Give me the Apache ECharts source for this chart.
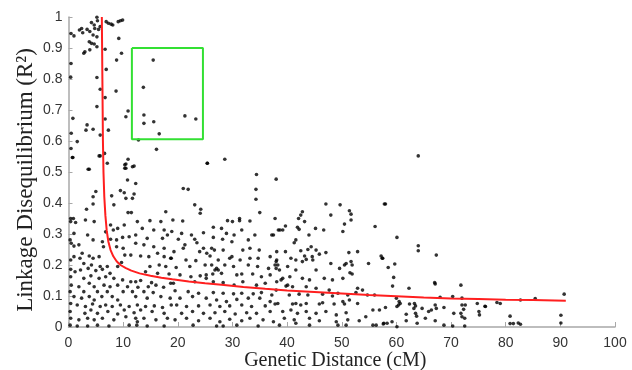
<!DOCTYPE html>
<html>
<head>
<meta charset="utf-8">
<script src="https://cdn.jsdelivr.net/npm/echarts@6/dist/echarts.min.js"></script>
<style>
html,body{margin:0;padding:0;background:#fff;}
#chart{width:632px;height:370px;}
</style>
</head>
<body>
<div id="chart"></div>
<script>
// ---- Data ----
var xTicks = [0,10,20,30,40,50,60,70,80,90,100];
var yTicks = [0,0.1,0.2,0.3,0.4,0.5,0.6,0.7,0.8,0.9,1];

// Upper scatter (R2 > ~0.5)
var pointsUpper = [
[0.46,0.947],[1.0,0.939],[2.0,0.958],[2.4,0.963],[2.6,0.949],[3.4,0.96],[3.9,0.953],[4.2,0.982],[4.7,0.974],[5.2,0.999],
[5.3,0.988],[4.8,0.963],[5.5,0.96],[5.8,0.969],[4.5,0.942],[5.2,0.936],[3.8,0.92],[4.2,0.915],[4.7,0.913],[5.2,0.904],
[3.0,0.888],[2.8,0.883],[3.9,0.894],[6.7,0.896],[6.9,0.985],[7.3,0.98],[7.8,0.977],[8.1,0.974],[9.1,0.985],[9.5,0.988],
[9.9,0.99],[9.2,0.931],[9.7,0.883],[8.8,0.861],[6.9,0.831],[5.2,0.805],[5.8,0.767],[6.7,0.74],[8.7,0.761],[0.46,0.85],
[5.2,0.711],[6.7,0.671],[0.8,0.673],[0.5,0.625],[0.46,0.576],[0.8,0.547],[1.6,0.598],[3.2,0.635],[3.4,0.652],[4.5,0.638],
[5.8,0.619],[7.3,0.635],[5.6,0.552],[6.6,0.56],[7.1,0.528],[3.6,0.509],[10.5,0.678],[10.9,0.697],[12.8,0.603],[15.5,0.861],
[13.7,0.773],[13.8,0.684],[13.8,0.657],[15.6,0.662],[16.6,0.623],[21.3,0.681],[23.3,0.671],[16.1,0.573],[10.9,0.541],[10.5,0.526],
[10.3,0.512],[11.7,0.517],[25.4,0.528],[28.6,0.541],[34.4,0.492],[38.0,0.477],[64.0,0.552],[0.4,0.806]
];

// Band 0-19 cM
var pointsBandA = [
[0.7,0.547],[5.8,0.552],[3.8,0.509],[10.3,0.523],[10.5,0.512],[12.0,0.519],[10.8,0.474],[12.3,0.463],[5.0,0.437],[4.5,0.42],
[9.5,0.44],[10.2,0.433],[12.0,0.429],[10.5,0.415],[11.7,0.415],[7.9,0.423],[4.5,0.397],[8.3,0.394],[3.3,0.38],[10.9,0.369],
[11.5,0.369],[17.8,0.372],[0.4,0.35],[0.9,0.35],[0.4,0.34],[1.3,0.337],[3.1,0.345],[4.7,0.34],[7.7,0.329],[8.2,0.313],
[9.0,0.318],[6.8,0.307],[10.2,0.329],[12.6,0.34],[14.9,0.343],[16.9,0.34],[13.5,0.318],[15.6,0.313],[17.5,0.313],[18.1,0.297],
[17.2,0.286],[3.5,0.297],[1.0,0.302],[0.3,0.281],[0.5,0.27],[1.0,0.261],[1.9,0.265],[4.5,0.281],[6.2,0.275],[7.7,0.283],
[8.8,0.281],[9.9,0.289],[11.1,0.291],[12.3,0.297],[14.4,0.286],[12.3,0.27],[13.8,0.265],[6.4,0.259],[8.8,0.259],[10.0,0.254],
[15.6,0.259],[17.5,0.254],[2.5,0.238],[3.8,0.229],[1.0,0.227],[0.4,0.216],[2.1,0.222],[4.5,0.222],[5.6,0.227],[10.3,0.232],
[11.4,0.232],[13.2,0.229],[14.7,0.227],[16.3,0.238],[17.5,0.227],[18.7,0.222],[2.8,0.205],[4.2,0.2],[3.6,0.189],[5.8,0.195],
[7.1,0.195],[9.0,0.195],[9.7,0.208],[0.4,0.186],[1.2,0.178],[2.2,0.184],[5.0,0.182],[6.2,0.186],[7.6,0.173],[14.9,0.195],
[16.6,0.2],[17.8,0.195],[14.1,0.178],[16.3,0.173],[18.4,0.171],[0.4,0.162],[2.8,0.157],[4.1,0.165],[5.6,0.157],[6.8,0.162],
[8.3,0.157],[9.9,0.152],[11.4,0.146],[12.3,0.146],[13.2,0.15],[15.2,0.143],[0.5,0.135],[1.9,0.13],[3.8,0.141],[4.7,0.13],
[6.5,0.135],[7.6,0.13],[9.0,0.135],[10.8,0.13],[12.7,0.128],[14.6,0.13],[16.0,0.135],[17.4,0.128],[18.7,0.141],[0.3,0.114],
[2.8,0.114],[5.3,0.114],[7.1,0.114],[10.0,0.114],[11.7,0.114],[13.8,0.114],[15.5,0.111],[1.0,0.098],[2.4,0.093],[3.8,0.098],
[4.7,0.087],[6.1,0.098],[8.0,0.098],[9.0,0.087],[12.3,0.098],[14.4,0.093],[16.9,0.098],[18.6,0.093],[0.4,0.076],[1.6,0.071],
[3.1,0.066],[4.4,0.074],[5.8,0.066],[6.8,0.071],[8.0,0.066],[9.5,0.071],[11.1,0.066],[12.6,0.071],[14.1,0.066],[15.7,0.068],
[17.2,0.063],[18.8,0.071],[0.3,0.05],[3.0,0.044],[4.1,0.055],[5.3,0.044],[7.2,0.05],[9.0,0.042],[10.2,0.055],[12.0,0.046],
[13.2,0.055],[15.3,0.05],[17.5,0.044],[0.4,0.028],[1.9,0.023],[3.5,0.028],[4.7,0.023],[6.2,0.028],[8.3,0.023],[10.5,0.033],
[12.3,0.028],[12.6,0.017],[13.8,0.028],[16.0,0.023],[18.1,0.028],[0.3,0.006],[1.6,0.003],[3.5,0.003],[5.3,0.006],[7.4,0.003],
[11.1,0.006],[12.5,0.006],[14.4,0.003],[17.5,0.003]
];

// Band 19-38 cM
var pointsBandB = [
[25.4,0.528],[34.3,0.444],[34.3,0.412],[21.0,0.447],[21.9,0.444],[23.1,0.394],[24.2,0.38],[24.1,0.367],[35.0,0.369],[19.1,0.345],
[20.9,0.342],[29.1,0.343],[30.0,0.34],[31.3,0.35],[31.3,0.343],[33.2,0.342],[37.8,0.35],[26.5,0.322],[28.0,0.318],[24.7,0.304],
[22.5,0.297],[20.7,0.302],[18.9,0.308],[28.9,0.302],[30.3,0.297],[31.7,0.313],[34.1,0.297],[37.2,0.297],[37.5,0.297],[38.4,0.313],
[20.1,0.283],[23.1,0.283],[23.5,0.272],[26.5,0.289],[28.2,0.283],[29.9,0.275],[32.9,0.281],[21.3,0.265],[21.0,0.254],[24.7,0.254],
[26.2,0.254],[26.7,0.248],[28.3,0.248],[31.9,0.248],[33.2,0.254],[34.9,0.248],[19.3,0.243],[24.0,0.243],[25.3,0.238],[18.8,0.222],
[21.5,0.216],[23.3,0.214],[25.9,0.229],[27.4,0.216],[29.5,0.222],[29.9,0.227],[31.4,0.216],[33.2,0.222],[34.7,0.222],[36.9,0.227],
[38.1,0.216],[19.7,0.192],[22.2,0.195],[25.0,0.2],[26.2,0.2],[27.4,0.184],[26.8,0.184],[27.1,0.189],[28.6,0.2],[30.2,0.195],
[32.9,0.2],[34.6,0.195],[36.6,0.189],[37.8,0.2],[20.4,0.168],[22.4,0.162],[24.1,0.165],[25.2,0.168],[26.4,0.171],[28.0,0.173],
[30.8,0.168],[31.7,0.171],[33.7,0.171],[35.3,0.162],[36.9,0.168],[19.2,0.141],[23.1,0.146],[25.2,0.157],[26.5,0.146],[28.3,0.143],
[30.3,0.135],[31.9,0.146],[34.4,0.135],[36.0,0.141],[38.1,0.146],[19.5,0.117],[21.9,0.114],[23.8,0.109],[26.5,0.111],[28.3,0.109],
[30.2,0.107],[31.7,0.109],[33.8,0.107],[35.3,0.111],[37.2,0.103],[20.4,0.093],[22.7,0.098],[25.2,0.093],[27.1,0.087],[28.9,0.082],
[30.8,0.089],[32.9,0.093],[35.0,0.093],[36.9,0.082],[19.8,0.071],[21.6,0.066],[23.8,0.068],[25.9,0.071],[27.7,0.066],[29.5,0.068],
[31.7,0.071],[33.5,0.066],[36.0,0.068],[37.8,0.074],[20.7,0.044],[22.7,0.05],[24.7,0.044],[26.8,0.046],[28.6,0.05],[30.5,0.042],
[32.6,0.046],[34.4,0.044],[36.9,0.05],[19.5,0.023],[21.6,0.028],[23.8,0.02],[25.9,0.028],[27.7,0.017],[29.5,0.025],[31.7,0.02],
[33.2,0.028],[35.6,0.023],[37.5,0.017],[22.8,0.006],[27.1,0.003],[28.3,0.003],[30.8,0.006],[34.7,0.003]
];

// Band 38-57 cM
var pointsBandC = [
[47.1,0.397],[49.7,0.394],[57.8,0.397],[42.8,0.372],[42.5,0.361],[48.0,0.361],[51.4,0.375],[51.7,0.364],[51.7,0.345],[42.1,0.35],
[43.2,0.34],[39.7,0.326],[38.7,0.313],[39.2,0.313],[41.9,0.322],[42.2,0.315],[45.2,0.318],[46.7,0.313],[50.5,0.332],[50.2,0.308],
[56.1,0.324],[44.0,0.297],[41.6,0.281],[41.3,0.272],[38.1,0.243],[39.7,0.243],[42.5,0.246],[44.4,0.259],[43.8,0.25],[45.3,0.248],
[45.9,0.235],[47.1,0.24],[51.3,0.24],[52.9,0.243],[57.2,0.229],[57.5,0.222],[40.7,0.222],[41.6,0.216],[43.2,0.229],[43.5,0.218],
[44.6,0.227],[44.7,0.216],[42.8,0.211],[38.0,0.211],[38.3,0.2],[48.0,0.205],[50.5,0.2],[50.8,0.205],[51.7,0.211],[51.9,0.2],
[54.9,0.205],[49.6,0.189],[38.0,0.189],[38.6,0.184],[40.1,0.195],[41.6,0.184],[45.3,0.184],[51.5,0.175],[51.9,0.171],[40.5,0.162],
[39.2,0.157],[38.9,0.152],[42.8,0.157],[44.1,0.152],[46.8,0.157],[48.3,0.152],[50.2,0.157],[39.8,0.132],[40.1,0.135],[41.0,0.13],
[43.5,0.13],[45.3,0.125],[47.7,0.119],[52.9,0.125],[53.8,0.119],[38.0,0.119],[40.4,0.103],[42.2,0.106],[43.8,0.103],[46.5,0.106],
[48.3,0.1],[49.3,0.109],[51.1,0.103],[52.6,0.111],[54.7,0.103],[56.0,0.103],[38.3,0.076],[41.0,0.074],[41.6,0.076],[42.5,0.071],
[43.5,0.076],[45.9,0.074],[46.5,0.078],[48.6,0.074],[50.2,0.082],[50.5,0.074],[51.4,0.087],[52.9,0.076],[55.7,0.055],[56.9,0.055],
[39.2,0.05],[40.7,0.055],[41.9,0.044],[43.5,0.05],[45.3,0.044],[47.1,0.05],[49.0,0.039],[50.8,0.046],[54.4,0.033],[39.5,0.028],
[41.3,0.023],[44.1,0.028],[45.9,0.02],[49.0,0.017],[51.1,0.023],[53.2,0.02],[38.6,0.006],[41.6,0.012],[44.1,0.006],[49.3,0.006],
[50.8,0.006],[55.7,0.006],[56.3,0.006],[57.6,0.01]
];

// Band 57-95 cM
var pointsBandD = [
[58.0,0.397],[60.1,0.289],[64.0,0.262],[64.0,0.246],[67.3,0.232],[57.4,0.222],[59.7,0.203],[58.5,0.192],[59.5,0.16],[59.3,0.132],
[62.3,0.125],[67.0,0.143],[67.1,0.139],[71.8,0.135],[68.0,0.096],[70.3,0.098],[72.0,0.093],[78.4,0.079],[79.0,0.076],[60.0,0.093],
[60.5,0.082],[60.7,0.076],[60.4,0.071],[60.1,0.066],[58.0,0.063],[62.4,0.074],[63.3,0.076],[63.5,0.068],[63.2,0.06],[64.7,0.06],
[65.9,0.05],[66.4,0.055],[67.1,0.071],[67.3,0.06],[68.7,0.063],[72.0,0.071],[72.3,0.057],[72.6,0.071],[71.8,0.044],[72.0,0.033],
[72.5,0.028],[74.8,0.076],[75.1,0.05],[75.2,0.039],[76.3,0.066],[61.8,0.041],[63.5,0.044],[63.7,0.035],[65.3,0.028],[67.1,0.02],
[70.5,0.044],[61.8,0.02],[63.8,0.012],[59.2,0.017],[58.3,0.012],[57.7,0.012],[60.1,0.001],[68.7,0.006],[70.3,0.003],[72.5,0.003],
[80.8,0.035],[80.8,0.011],[81.4,0.011],[82.3,0.013],[82.7,0.009],[82.7,0.087],[85.4,0.092],[90.1,0.038],[90.1,0.013],[90.7,0.106],
[76.2,0.067]
];

// Fitted decay curve (red)
var curveX = [6.1,6.15,6.2,6.25,6.3,6.4,6.55,6.75,7.0,7.3,7.7,8.2,8.8,9.5,10.5,11.5,13,15,17,19,22,25,28,32,36,40,45,50,55,60,65,70,75,80,85,91];
var curveY = [1.0,0.9,0.8,0.7,0.6,0.5,0.42,0.36,0.31,0.275,0.248,0.228,0.212,0.2,0.19,0.182,0.173,0.165,0.159,0.154,0.147,0.141,0.136,0.129,0.123,0.118,0.113,0.108,0.103,0.099,0.095,0.092,0.09,0.088,0.087,0.085];

// Highlight box (green)
var boxX = [11.6, 24.6, 24.6, 11.6, 11.6];
var boxY = [0.9, 0.9, 0.606, 0.606, 0.9];

// ---- Chart ----
var allPoints = pointsUpper.concat(pointsBandA, pointsBandB, pointsBandC, pointsBandD);
var curveData = curveX.map(function (x, i) { return [x, curveY[i]]; });
var boxData = boxX.map(function (x, i) { return [x, boxY[i]]; });

var chart = echarts.init(document.getElementById('chart'), null, {renderer: 'canvas'});
var axisColor = '#a8a8a8';
chart.setOption({
  animation: false,
  backgroundColor: '#ffffff',
  grid: {left: 68.5, right: 17, top: 17, bottom: 43, containLabel: false, outerBoundsMode: 'none'},
  xAxis: {
    type: 'value', min: xTicks[0], max: xTicks[xTicks.length - 1], interval: xTicks[1] - xTicks[0],
    name: 'Genetic Distance (cM)', nameLocation: 'middle', nameGap: 24, nameMoveOverlap: false,
    nameTextStyle: {fontFamily: 'Liberation Serif', fontSize: 20, color: '#222', padding: [0, 13, 0, 0]},
    axisLine: {show: true, lineStyle: {color: axisColor, width: 1.5}},
    axisTick: {show: true, inside: true, length: 5, lineStyle: {color: axisColor}},
    axisLabel: {fontFamily: 'Liberation Sans', fontSize: 14, color: '#333', margin: 9},
    splitLine: {show: false}
  },
  yAxis: {
    type: 'value', min: yTicks[0], max: yTicks[yTicks.length - 1], interval: 0.1,
    name: 'Linkage Disequilibrium (R²)', nameLocation: 'middle', nameGap: 31, nameRotate: 90, nameMoveOverlap: false,
    nameTextStyle: {fontFamily: 'Liberation Serif', fontSize: 23, color: '#222', padding: [0, 16, 0, 0]},
    axisLine: {show: true, lineStyle: {color: axisColor, width: 1.5}},
    axisTick: {show: true, inside: true, length: 4, lineStyle: {color: axisColor}},
    axisLabel: {fontFamily: 'Liberation Sans', fontSize: 14, color: '#333', margin: 6},
    splitLine: {show: false}
  },
  series: [
    {
      type: 'scatter', data: allPoints, symbol: 'circle', symbolSize: 3.6,
      itemStyle: {color: '#000'}, silent: true, z: 2
    },
    {
      type: 'line', data: curveData, showSymbol: false, symbol: 'none',
      lineStyle: {color: '#ff1f1f', width: 2}, smooth: false, silent: true, z: 3
    },
    {
      type: 'line', data: boxData, showSymbol: false, symbol: 'none',
      lineStyle: {color: '#33e033', width: 2}, silent: true, z: 4
    }
  ]
});
</script>
</body>
</html>
